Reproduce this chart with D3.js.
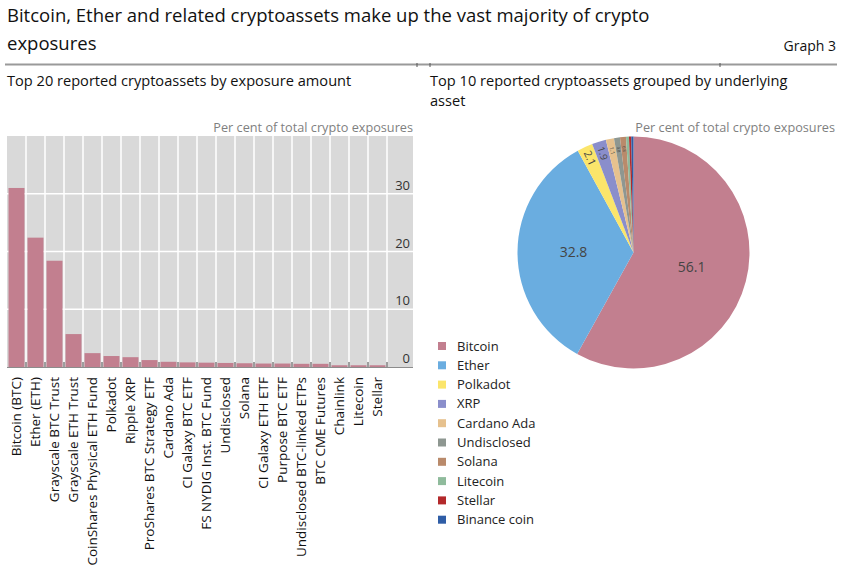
<!DOCTYPE html>
<html>
<head>
<meta charset="utf-8">
<script src="https://cdn.jsdelivr.net/npm/d3@7"></script>
<style>
  body { margin: 0; background: #fff; }
  svg { font-family: "Open Sans", "Noto Sans", sans-serif; }
</style>
</head>
<body>
<div id="chart"></div>
<script>
// Left panel: top 20 cryptoassets by exposure (per cent of total)
var barNames = ["Bitcoin (BTC)", "Ether (ETH)", "Grayscale BTC Trust", "Grayscale ETH Trust",
  "CoinShares Physical ETH Fund", "Polkadot", "Ripple XRP", "ProShares BTC Strategy ETF",
  "Cardano Ada", "CI Galaxy BTC ETF", "FS NYDIG Inst. BTC Fund", "Undisclosed", "Solana",
  "CI Galaxy ETH ETF", "Purpose BTC ETF", "Undisclosed BTC-linked ETPs", "BTC CME Futures",
  "Chainlink", "Litecoin", "Stellar"];
var barValues = [31.0, 22.4, 18.4, 5.7, 2.4, 1.9, 1.7, 1.2, 0.9, 0.8, 0.75, 0.7, 0.65,
  0.6, 0.6, 0.55, 0.55, 0.3, 0.3, 0.3];
var yTicks = [0, 10, 20, 30];

// Right panel: top 10 grouped by underlying asset
var pieNames = ["Bitcoin", "Ether", "Polkadot", "XRP", "Cardano Ada", "Undisclosed",
  "Solana", "Litecoin", "Stellar", "Binance coin"];
var pieValues = [56.1, 32.8, 2.1, 1.9, 1.1, 0.8, 0.8, 0.4, 0.3, 0.3];
var pieColors = ["#c27f8f", "#6aade0", "#fbe56b", "#8a8ecb", "#e6c18e", "#8e9791",
  "#b98a6b", "#8fbb9c", "#b3292b", "#2f5da6"];

var W = 850, H = 580;
var svg = d3.select("#chart").append("svg")
    .attr("width", W)
    .attr("height", H);

// Header
svg.append("text")
    .attr("x", 7).attr("y", 22)
    .attr("font-size", 18.5).attr("fill", "#111")
    .text("Bitcoin, Ether and related cryptoassets make up the vast majority of crypto");
svg.append("text")
    .attr("x", 7).attr("y", 50)
    .attr("font-size", 18.5).attr("fill", "#111")
    .text("exposures");
svg.append("text")
    .attr("x", 836).attr("y", 51)
    .attr("text-anchor", "end")
    .attr("font-size", 14).attr("fill", "#111")
    .text("Graph 3");
svg.append("line")
    .attr("x1", 5).attr("x2", 837)
    .attr("y1", 64.5).attr("y2", 64.5)
    .attr("stroke", "#9a9a9a").attr("stroke-width", 2);
[417, 430, 720].forEach(function(x) {
  svg.append("line")
      .attr("x1", x).attr("x2", x)
      .attr("y1", 63).attr("y2", 67)
      .attr("stroke", "#555").attr("stroke-width", 1);
});

svg.append("text")
    .attr("x", 7).attr("y", 86)
    .attr("font-size", 14.6).attr("fill", "#111")
    .text("Top 20 reported cryptoassets by exposure amount");
svg.append("text")
    .attr("x", 430).attr("y", 86)
    .attr("font-size", 14.6).attr("fill", "#111")
    .text("Top 10 reported cryptoassets grouped by underlying");
svg.append("text")
    .attr("x", 430).attr("y", 106)
    .attr("font-size", 14.6).attr("fill", "#111")
    .text("asset");

// ---- Bar chart ----
var plot = {left: 7, right: 387, outer: 413, top: 136, bottom: 367};

var x = d3.scaleBand()
    .domain(barNames)
    .range([plot.left, plot.right])
    .paddingInner(0.16)
    .paddingOuter(0.08);

var y = d3.scaleLinear()
    .domain([0, 40])
    .range([plot.bottom, plot.top]);

svg.append("text")
    .attr("x", plot.outer).attr("y", 132)
    .attr("text-anchor", "end")
    .attr("font-size", 12.7).attr("fill", "#7f7f7f")
    .text("Per cent of total crypto exposures");

svg.append("rect")
    .attr("x", plot.left).attr("y", plot.top)
    .attr("width", plot.outer - plot.left)
    .attr("height", plot.bottom - plot.top)
    .attr("fill", "#d9d9d9");

// horizontal grid
svg.append("g")
  .selectAll("line")
  .data(yTicks.slice(1))
  .enter().append("line")
    .attr("x1", plot.left).attr("x2", plot.outer)
    .attr("y1", function(d) { return y(d); })
    .attr("y2", function(d) { return y(d); })
    .attr("stroke", "#fff").attr("stroke-width", 1.5);

// vertical separators at band boundaries
var step = x.step();
function edge(d) { return x(d) - x.paddingInner() * step / 2 + step; }

svg.append("g")
  .selectAll("line")
  .data(barNames)
  .enter().append("line")
    .attr("x1", edge).attr("x2", edge)
    .attr("y1", plot.top).attr("y2", plot.bottom)
    .attr("stroke", "#fff").attr("stroke-width", 1.5);

svg.append("g")
  .selectAll("rect")
  .data(barValues)
  .enter().append("rect")
    .attr("x", function(d, i) { return x(barNames[i]); })
    .attr("y", function(d) { return y(d); })
    .attr("width", x.bandwidth())
    .attr("height", function(d) { return y(0) - y(d); })
    .attr("fill", "#c27f8f");

// baseline and tick marks
svg.append("line")
    .attr("x1", plot.left).attr("x2", plot.outer)
    .attr("y1", plot.bottom + 0.5).attr("y2", plot.bottom + 0.5)
    .attr("stroke", "#8c8c8c").attr("stroke-width", 1);
svg.append("g")
  .selectAll("line")
  .data(barNames)
  .enter().append("line")
    .attr("x1", edge).attr("x2", edge)
    .attr("y1", plot.bottom - 5).attr("y2", plot.bottom)
    .attr("stroke", "#444").attr("stroke-width", 1);

// y tick labels on the right, sitting above the grid lines
svg.append("g")
  .selectAll("text")
  .data(yTicks)
  .enter().append("text")
    .attr("x", plot.outer - 3)
    .attr("y", function(d) { return y(d) - 4; })
    .attr("text-anchor", "end")
    .attr("font-size", 13).attr("fill", "#333")
    .text(function(d) { return d; });

// category labels, rotated
svg.append("g")
  .selectAll("text")
  .data(barNames)
  .enter().append("text")
    .attr("transform", function(d) {
      return "translate(" + (x(d) + x.bandwidth() / 2) + "," + (plot.bottom + 10) + ") rotate(-90)";
    })
    .attr("dy", "0.35em")
    .attr("text-anchor", "end")
    .attr("font-size", 13.5).attr("fill", "#111")
    .text(function(d) { return d; });

// ---- Pie chart ----
var cx = 633.5, cy = 252.5, r = 116;

svg.append("text")
    .attr("x", 835).attr("y", 132)
    .attr("text-anchor", "end")
    .attr("font-size", 12.7).attr("fill", "#7f7f7f")
    .text("Per cent of total crypto exposures");

var pie = d3.pie().sort(null).value(function(d) { return d; });
var arcs = pie(pieValues);
var arc = d3.arc().innerRadius(0).outerRadius(r);

var pg = svg.append("g")
    .attr("transform", "translate(" + cx + "," + cy + ")");

pg.selectAll("path")
  .data(arcs)
  .enter().append("path")
    .attr("d", arc)
    .attr("fill", function(d, i) { return pieColors[i]; });

// labels: big slices horizontal, small slices radial
arcs.forEach(function(d) {
  var mid = (d.startAngle + d.endAngle) / 2;
  var span = d.endAngle - d.startAngle;
  if (span > 0.5) {
    var rr = 60;
    pg.append("text")
        .attr("x", Math.sin(mid) * rr)
        .attr("y", -Math.cos(mid) * rr)
        .attr("dy", "0.35em")
        .attr("text-anchor", "middle")
        .attr("font-size", 14).attr("fill", "#444")
        .text(d.data.toFixed(1));
  } else {
    var rl = 104;
    var fs = Math.min(11, span * rl * 0.75);
    if (fs < 4) return;
    var deg = mid * 180 / Math.PI + 90;
    pg.append("text")
        .attr("transform", "translate(" + (Math.sin(mid) * rl) + "," + (-Math.cos(mid) * rl) + ") rotate(" + deg + ")")
        .attr("dy", "0.35em")
        .attr("text-anchor", "middle")
        .attr("font-size", fs).attr("fill", "#444")
        .text(d.data.toFixed(1));
  }
});

// legend
var legend = svg.append("g")
  .selectAll("g")
  .data(pieNames)
  .enter().append("g")
    .attr("transform", function(d, i) { return "translate(438," + (342 + i * 19.3) + ")"; });

legend.append("rect")
    .attr("width", 8).attr("height", 8)
    .attr("fill", function(d, i) { return pieColors[i]; });

legend.append("text")
    .attr("x", 19).attr("y", 4)
    .attr("dy", "0.35em")
    .attr("font-size", 13).attr("fill", "#222")
    .text(function(d) { return d; });
</script>
</body>
</html>
